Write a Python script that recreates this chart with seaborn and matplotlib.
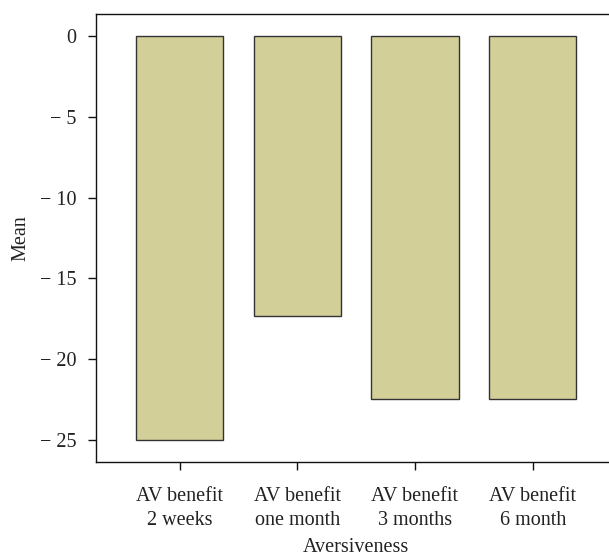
import matplotlib
matplotlib.use("Agg")
import matplotlib.pyplot as plt
import seaborn as sns
import pandas as pd

categories = ["AV benefit\n2 weeks", "AV benefit\none month", "AV benefit\n3 months", "AV benefit\n6 month"]
means = [-25.0, -17.3, -22.45, -22.45]
yticks = [0, -5, -10, -15, -20, -25]
ytick_labels = ["0", "\u2212 5", "\u2212 10", "\u2212 15", "\u2212 20", "\u2212 25"]

sns.set_theme(style="white")
plt.rcParams['font.family'] = ['Liberation Serif', 'DejaVu Serif']

df = pd.DataFrame({"cat": categories, "mean": means})

fig = plt.figure(figsize=(6.09, 5.57), dpi=100)
ax = fig.add_axes([96/609, 1 - 462/557, 1 - 96/609 + 0.01, (462 - 14)/557])

sns.barplot(data=df, x="cat", y="mean", ax=ax, color="#D3CF98", saturation=1,
            edgecolor="#333333", linewidth=1.0, width=0.74)

fs = 14.5
tc = "#222222"
ax.set_ylim(-26.36, 1.36)
ax.set_xlim(-0.71, 3.70)
ax.set_yticks(yticks)
ax.set_yticklabels(ytick_labels, fontsize=fs, color=tc)
ax.set_xticks(range(len(categories)))
ax.set_xticklabels(categories, fontsize=fs, color=tc, linespacing=1.35)
ax.set_ylabel("Mean", fontsize=fs, color=tc, labelpad=7)
ax.set_xlabel("Aversiveness", fontsize=fs, color=tc, labelpad=6)

for s in ["left", "bottom", "top"]:
    ax.spines[s].set_visible(True)
    ax.spines[s].set_color("#111111")
    ax.spines[s].set_linewidth(1.0)
ax.spines["right"].set_visible(False)

ax.tick_params(axis="y", which="major", direction="out", length=6, width=1,
               color="#111111", left=True, pad=8)
ax.tick_params(axis="x", which="major", direction="out", length=6, width=1,
               color="#111111", bottom=True, pad=12)

fig.savefig("out.png", dpi=100)
